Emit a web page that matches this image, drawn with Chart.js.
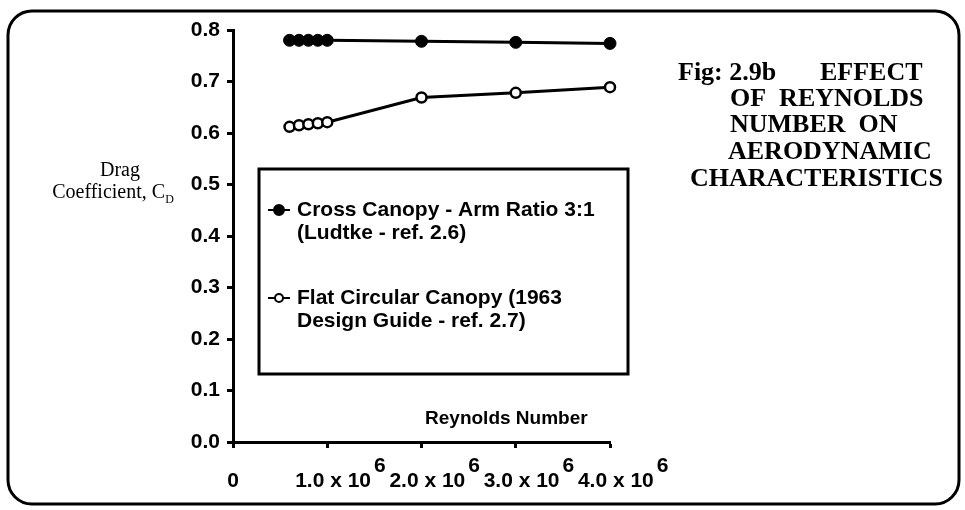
<html>
<head>
<meta charset="UTF-8">
<title>Effect of Reynolds Number on Drag Coefficient</title>
<style>
  body { margin: 0; background: #fff; }
  canvas { display: block; }
</style>
</head>
<body>
<canvas id="cdChart" width="965" height="510"></canvas>
<script src="https://cdn.jsdelivr.net/npm/chart.js"></script>
<script>
// values
const reynolds = [0.6e6, 0.7e6, 0.8e6, 0.9e6, 1.0e6, 2.0e6, 3.0e6, 4.0e6];
const crossCd = [0.780, 0.780, 0.780, 0.780, 0.780, 0.778, 0.776, 0.774];
const flatCd = [0.612, 0.615, 0.617, 0.619, 0.621, 0.669, 0.678, 0.689];
const seriesNames = ['Cross Canopy - Arm Ratio 3:1', 'Flat Circular Canopy (1963'];
const legendSecondLine = ['(Ludtke - ref. 2.6)', 'Design Guide - ref. 2.7)'];
const xTickValues = [0, 1e6, 2e6, 3e6, 4e6];
const xTickText = ['0', '1.0 x 10', '2.0 x 10', '3.0 x 10', '4.0 x 10'];
const xTickSup = ['', '6', '6', '6', '6'];
const yTickValues = [0, 0.1, 0.2, 0.3, 0.4, 0.5, 0.6, 0.7, 0.8];
const titleLines = ['Fig: 2.9b', 'OF  REYNOLDS', 'NUMBER  ON', 'AERODYNAMIC', 'CHARACTERISTICS'];

const SANS = '"Liberation Sans", Arial, sans-serif';
const SERIF = '"Liberation Serif", "Times New Roman", serif';
const tickFont = 'bold 21px ' + SANS;

// pad the exponent with spaces so it sits right after "10" on the line above
const measureCtx = document.createElement('canvas').getContext('2d');
measureCtx.font = tickFont;
function xLabel(i) {
    if (!xTickSup[i]) return ['', xTickText[i]];
    const text = '  ' + xTickText[i];
    const w = measureCtx.measureText(text).width;
    const ws = measureCtx.measureText(xTickSup[i]).width;
    const sp = measureCtx.measureText(' ').width;
    const n = Math.round((w + 4 + ws) / sp);
    return [' '.repeat(n) + xTickSup[i], text];
}

const decorations = {
    id: 'decorations',
    beforeDraw(chart) {
        const c = chart.ctx;
        c.save();
        // rounded frame round the whole figure
        c.strokeStyle = '#000';
        c.lineWidth = 3;
        c.beginPath();
        c.roundRect(8, 11, 951, 493, 24);
        c.stroke();
        c.restore();
    },
    afterDraw(chart) {
        const c = chart.ctx;
        const xs = chart.scales.x, ys = chart.scales.y;
        c.save();
        c.fillStyle = '#000';

        // y axis label
        c.font = '20px ' + SERIF;
        c.textAlign = 'center';
        c.textBaseline = 'alphabetic';
        c.fillText('Drag', 120, 176);
        const main = 'Coefficient, C';
        const mw = c.measureText(main).width;
        c.font = '12px ' + SERIF;
        const dw = c.measureText('D').width;
        const x0 = 113 - (mw + dw) / 2;
        c.textAlign = 'left';
        c.fillText('D', x0 + mw, 203);
        c.font = '20px ' + SERIF;
        c.fillText(main, x0, 198);

        // x axis title sits inside the plot
        c.font = 'bold 19px ' + SANS;
        c.textAlign = 'center';
        c.fillText('Reynolds Number', xs.getPixelForValue(2.9e6), ys.getPixelForValue(0.035));

        // legend box
        c.lineWidth = 3;
        c.strokeRect(259, 169, 369, 205);
        const rows = [210, 298];
        chart.data.datasets.forEach((ds, i) => {
            const y = rows[i];
            c.lineWidth = 2;
            c.beginPath();
            c.moveTo(268, y);
            c.lineTo(290, y);
            c.stroke();
            c.beginPath();
            c.arc(279, y, i === 0 ? 5 : 4, 0, Math.PI * 2);
            c.fillStyle = ds.pointBackgroundColor;
            c.fill();
            c.lineWidth = 2;
            c.stroke();
            c.fillStyle = '#000';
            c.font = 'bold 21px ' + SANS;
            c.textAlign = 'left';
            c.textBaseline = 'middle';
            c.fillText(seriesNames[i], 297, y);
            c.fillText(legendSecondLine[i], 297, y + 23);
        });

        // figure caption
        c.font = 'bold 26px ' + SERIF;
        c.textBaseline = 'alphabetic';
        c.textAlign = 'left';
        c.fillText(titleLines[0], 678, 80);
        c.fillText('EFFECT', 820, 80);
        c.fillText(titleLines[1], 730, 106);
        c.fillText(titleLines[2], 730, 132);
        c.fillText(titleLines[3], 728, 159);
        c.fillText(titleLines[4], 690, 186);
        c.restore();
    }
};

new Chart(document.getElementById('cdChart'), {
    type: 'line',
    data: {
        datasets: [{
            label: seriesNames[0],
            data: reynolds.map((r, i) => ({ x: r, y: crossCd[i] })),
            borderColor: '#000',
            borderWidth: 3,
            pointStyle: 'circle',
            pointRadius: 6,
            pointBackgroundColor: '#000',
            pointBorderColor: '#000',
            pointBorderWidth: 1,
            tension: 0,
            clip: false
        }, {
            label: seriesNames[1],
            data: reynolds.map((r, i) => ({ x: r, y: flatCd[i] })),
            borderColor: '#000',
            borderWidth: 3,
            pointStyle: 'circle',
            pointRadius: 5,
            pointBackgroundColor: '#fff',
            pointBorderColor: '#000',
            pointBorderWidth: 2.5,
            tension: 0,
            clip: false
        }]
    },
    options: {
        responsive: false,
        animation: false,
        layout: { padding: { top: 30, right: 355, bottom: 0, left: 0 } },
        plugins: { legend: { display: false }, tooltip: { enabled: false } },
        scales: {
            x: {
                type: 'linear',
                min: 0,
                max: 4e6,
                afterBuildTicks: s => { s.ticks = xTickValues.map(v => ({ value: v })); },
                afterFit: s => { s.height = 68; },
                border: { color: '#000', width: 3 },
                grid: { drawOnChartArea: false, tickLength: 6, tickWidth: 3, tickColor: '#000' },
                ticks: {
                    color: '#000',
                    font: { family: SANS, size: 21, weight: 'bold', lineHeight: 0.75 },
                    padding: 10,
                    maxRotation: 0,
                    autoSkip: false,
                    callback: (v, i) => xLabel(i)
                }
            },
            y: {
                min: 0,
                max: 0.8,
                afterBuildTicks: s => { s.ticks = yTickValues.map(v => ({ value: v })); },
                afterFit: s => { s.width = 233; },
                border: { color: '#000', width: 3 },
                grid: { drawOnChartArea: false, tickLength: 6, tickWidth: 3, tickColor: '#000' },
                ticks: {
                    color: '#000',
                    font: { family: SANS, size: 21, weight: 'bold' },
                    padding: 7,
                    callback: v => v.toFixed(1)
                }
            }
        }
    },
    plugins: [decorations]
});
</script>
</body>
</html>
